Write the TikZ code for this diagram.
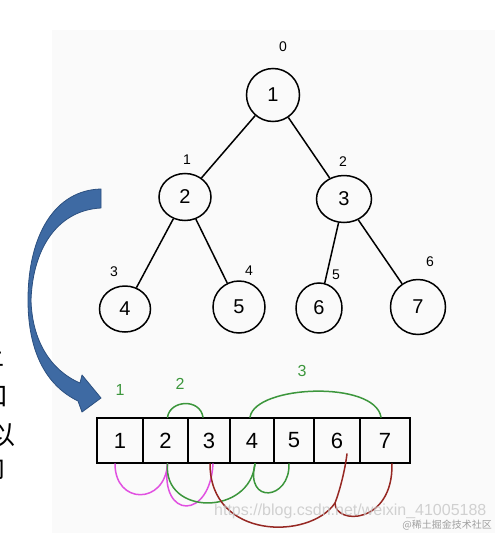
\documentclass[tikz,border=0pt]{standalone}
\usepackage{fontspec}
\setmainfont{Liberation Sans}
\newfontfamily\cjk{Noto Sans CJK SC}
\usetikzlibrary{shapes.geometric,calc}
\definecolor{panelbg}{RGB}{250,250,250}
\definecolor{arrowblue}{RGB}{62,106,163}
\definecolor{arrowedge}{RGB}{44,80,128}
\definecolor{hgreen}{RGB}{60,150,60}
\definecolor{hmagenta}{RGB}{225,80,225}
\definecolor{hbrown}{RGB}{150,40,35}
\begin{document}
\begin{tikzpicture}[x=1pt,y=-1pt,
  tnode/.style={ellipse, draw, line width=1.5pt, inner sep=0pt, font=\fontsize{20}{20}\selectfont},
  idx/.style={inner sep=0pt, font=\fontsize{14}{14}\selectfont},
  cell/.style={rectangle, draw, line width=1.6pt, minimum height=45pt, inner sep=0pt, font=\fontsize{22}{22}\selectfont},
  glab/.style={inner sep=0pt, text=hgreen, font=\fontsize{16}{16}\selectfont},
  edge/.style={line width=1.5pt},
  pen/.style={line width=1.5pt, line cap=round, line join=round},
  cjkfrag/.style={inner sep=0pt, anchor=east, font=\cjk\fontsize{26}{26}\selectfont}
]
\useasboundingbox (0,0) rectangle (495,533);
\fill[white] (0,0) rectangle (495,533);
\fill[panelbg] (52,30) rectangle (495,533);

% clipped text fragments at the left edge
\begin{scope}
  \clip (0,340) rectangle (16,485);
  \node[cjkfrag] (f1) at (4.5,355) {上};
  \node[cjkfrag] (f2) at (8.5,397) {口};
  \node[cjkfrag] (f3) at (15.5,435) {以};
  \node[cjkfrag] (f4) at (5.5,468) {向};
\end{scope}

% tree
\node[tnode, minimum width=53pt, minimum height=53pt] (n1) at (273,95) {1};
\node[tnode, minimum width=52pt, minimum height=47pt] (n2) at (185,197) {2};
\node[tnode, minimum width=55pt, minimum height=47pt] (n3) at (344,199) {3};
\node[tnode, minimum width=51pt, minimum height=46pt] (n4) at (125,309) {4};
\node[tnode, minimum width=52pt, minimum height=52pt] (n5) at (239,307) {5};
\node[tnode, minimum width=46pt, minimum height=50pt] (n6) at (319,308) {6};
\node[tnode, minimum width=55pt, minimum height=55pt] (n7) at (418,307) {7};
\draw[edge] (n1) -- (n2);
\draw[edge] (n1) -- (n3);
\draw[edge] (n2) -- (n4);
\draw[edge] (n2) -- (n5);
\draw[edge] (n3) -- (n6);
\draw[edge] (n3) -- (n7);

\node[idx] (i0) at (283,47) {0};
\node[idx] (i1) at (187,160) {1};
\node[idx] (i2) at (343,162) {2};
\node[idx] (i3) at (114,272) {3};
\node[idx] (i4) at (249,271) {4};
\node[idx] (i5) at (336,275) {5};
\node[idx] (i6) at (430,262) {6};

% array
\node[cell, minimum width=46pt] (c1) at (120,440.5) {1};
\node[cell, minimum width=45pt] (c2) at (165.5,440.5) {2};
\node[cell, minimum width=42pt] (c3) at (209,440.5) {3};
\node[cell, minimum width=44pt] (c4) at (252,440.5) {4};
\node[cell, minimum width=40pt] (c5) at (294,440.5) {5};
\node[cell, minimum width=46pt] (c6) at (337,440.5) {6};
\node[cell, minimum width=50pt] (c7) at (385,440.5) {7};

% green level labels and arcs above
\node[glab] (g1) at (120,390) {1};
\node[glab] (g2) at (180,384) {2};
\node[glab] (g3) at (302,371) {3};
\draw[pen, hgreen] ([xshift=2pt]c2.north) .. controls (170,400) and (200,398) .. ([xshift=-6pt]c3.north);
\draw[pen, hgreen] ([xshift=-2pt]c4.north) .. controls (255,385) and (375,380) .. ([xshift=-4pt]c7.north);

% arcs below
\draw[pen, hmagenta] ([xshift=-5pt]c1.south) .. controls (115,505) and (165,505) .. ([xshift=2pt]c2.south);
\draw[pen, hmagenta] ([xshift=2pt]c2.south) .. controls (160,520) and (210,520) .. ([xshift=4pt]c3.south);
\draw[pen, hgreen] ([xshift=2pt]c2.south) .. controls (163,516) and (250,516) .. ([xshift=3pt]c4.south);
\draw[pen, hgreen] ([xshift=3pt]c4.south) .. controls (245,505) and (290,500) .. ([xshift=-5pt]c5.south);
\coordinate (bj) at (335,503);
\draw[pen, hbrown] ([xshift=1pt]c3.south) .. controls (210,540) and (310,540) .. (bj)
  .. controls (340,490) and (345,470) .. ([xshift=10pt,yshift=10pt]c6.south);
\draw[pen, hbrown] (bj) .. controls (335,525) and (393,525) .. ([xshift=7pt]c7.south);

% watermark
\node[anchor=west, inner sep=0pt, text=gray!45, opacity=0.8, font=\fontsize{16}{16}\selectfont] (wm) at (214,511) {https://blog.csdn.net/weixin\_41005188};
\node[anchor=east, inner sep=0pt, text=gray!75, font=\cjk\fontsize{10}{10}\selectfont] (wm2) at (492,525) {@稀土掘金技术社区};

% curved blue arrow
\filldraw[fill=arrowblue, draw=arrowedge, line width=0.8pt, line join=round]
  (101,189) .. controls (55,190) and (28,235) .. (28,300)
  .. controls (28,350) and (45,385) .. (78,401)
  -- (82,412) -- (101,398) -- (82,375) -- (80,383)
  .. controls (50,370) and (32,340) .. (31,300)
  .. controls (33,245) and (60,210) .. (101,208) -- cycle;
\end{tikzpicture}
\end{document}
